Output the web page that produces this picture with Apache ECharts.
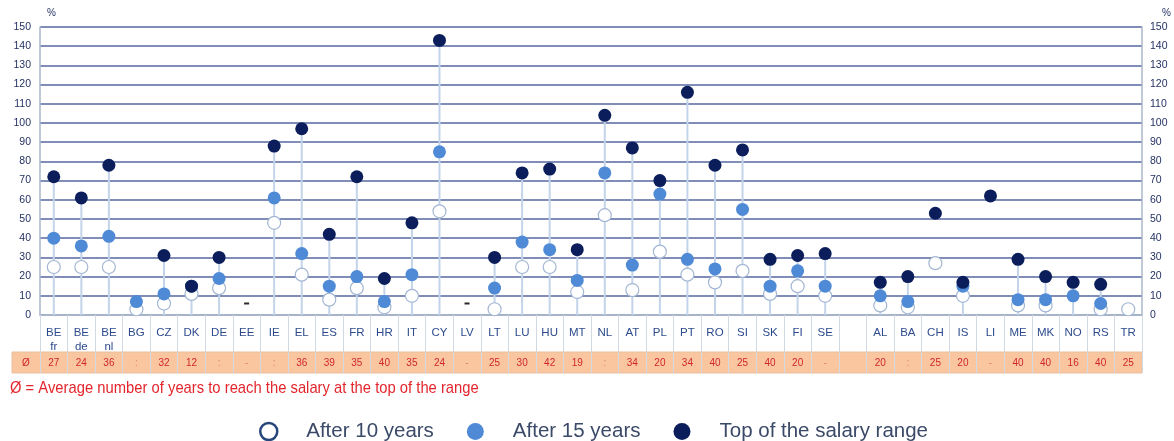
<!DOCTYPE html>
<html>
<head>
<meta charset="utf-8">
<title>Teachers' salaries - range</title>
<script src="https://cdn.jsdelivr.net/npm/echarts@6/dist/echarts.min.js"></script>
<style>
html, body { margin: 0; padding: 0; background: #fff; }
#chart { width: 1174px; height: 441px; }
</style>
</head>
<body>
<div id="chart"></div>
<script>
// countries (empty string = gap column between EU and non-EU)
var countries = ['BE fr','BE de','BE nl','BG','CZ','DK','DE','EE','IE','EL','ES','FR','HR','IT','CY','LV','LT','LU','HU','MT','NL','AT','PL','PT','RO','SI','SK','FI','SE','','AL','BA','CH','IS','LI','ME','MK','NO','RS','TR'];
// % above the minimum salary
var after10  = [25,25,25,3,6,11,14,null,48,21,8,14,4,10,54,null,3,25,25,12,52,13,33,21,17,23,11,15,10,null,5,4,27,10,null,5,5,null,3,3];
var after15  = [40,36,41,7,11,15,19,null,61,32,15,20,7,21,85,null,14,38,34,18,74,26,63,29,24,55,15,23,15,null,10,7,null,15,null,8,8,10,6,null];
var topRange = [72,61,78,null,31,15,30,null,88,97,42,72,19,48,143,null,30,74,76,34,104,87,70,116,78,86,29,31,32,null,17,20,53,17,62,29,20,17,16,null];
// average number of years to reach the top of the range
var yearsToTop = ['27','24','36',':','32','12',':','-',':','36','39','35','40','35','24','-','25','30','42','19',':','34','20','34','40','25','40','20','-','','20',':','25','20','-','40','40','16','40','25'];
// "-" = not applicable markers drawn in the plot
var notApplicable = [null,null,null,null,null,null,null,6,null,null,null,null,null,null,null,6,null,null,null,null,null,null,null,null,null,null,null,null,null,null,null,null,null,null,null,null,null,null,null,null];
var yMin = 0, yMax = 150, yStep = 10;

var FONT = "'Liberation Sans', Arial, sans-serif";

// stem from 0 up to the highest point
var stems = countries.map(function (c, i) {
    if (after15[i] == null) return null;
    return Math.max(after10[i] || 0, after15[i] || 0, topRange[i] || 0);
});

var myChart = echarts.init(document.getElementById('chart'));

var option = {
    animation: false,
    textStyle: { fontFamily: FONT },
    grid: { left: 40, right: 32, top: 27, bottom: 126 },
    legend: {
        left: 254,
        top: 416,
        icon: 'circle',
        itemWidth: 17,
        itemHeight: 17,
        itemGap: 33,
        textStyle: { fontSize: 20.5, color: '#3b4a68', padding: [0, 0, 0, 24] },
        data: [
            { name: 'After 10 years', itemStyle: { color: '#fff', borderColor: '#27467b', borderWidth: 2.5 } },
            { name: 'After 15 years' },
            { name: 'Top of the salary range' }
        ]
    },
    xAxis: [
        {
            type: 'category',
            data: countries,
            boundaryGap: true,
            axisLine: { lineStyle: { color: '#b4bfd2', width: 1.5 } },
            // column separators through both table rows
            axisTick: { show: true, length: 58, lineStyle: { color: '#d3d9e3' } },
            axisLabel: {
                interval: 0,
                margin: 11,
                color: '#2d4b8c',
                fontSize: 11.5,
                lineHeight: 14,
                formatter: function (v) { return v.replace(' ', '\n'); }
            },
            splitLine: { show: false }
        },
        {
            type: 'category',
            data: countries,
            position: 'bottom',
            offset: 37,
            axisLine: { show: false },
            axisTick: { show: false },
            axisLabel: {
                interval: 0,
                margin: 6,
                color: '#d0262b',
                fontSize: 10,
                formatter: function (v, i) {
                    var s = yearsToTop[i];
                    if (s === ':' || s === '-') return '{dim|' + s + '}';
                    return s;
                },
                rich: { dim: { color: '#e8845e', fontSize: 10 } }
            }
        }
    ],
    yAxis: [
        {
            type: 'value',
            min: yMin, max: yMax, interval: yStep,
            position: 'left',
            name: '%',
            nameLocation: 'end',
            nameGap: 9,
            nameTextStyle: { color: '#1e2c5e', fontSize: 10, align: 'left', padding: [0, 0, 0, 7] },
            axisLine: { show: true, lineStyle: { color: '#aab6cc', width: 1.5 } },
            axisTick: { show: false },
            axisLabel: { color: '#1e2c5e', fontSize: 10.5, margin: 9 },
            splitLine: { lineStyle: { color: '#56699f', width: 1.5 } }
        },
        {
            type: 'value',
            min: yMin, max: yMax, interval: yStep,
            position: 'right',
            name: '%',
            nameLocation: 'end',
            nameGap: 9,
            nameTextStyle: { color: '#1e2c5e', fontSize: 10, align: 'left', padding: [0, 0, 0, 20] },
            axisLine: { show: true, lineStyle: { color: '#aab6cc', width: 1.5 } },
            axisTick: { show: false },
            axisLabel: { color: '#1e2c5e', fontSize: 10.5, margin: 8 },
            splitLine: { show: false }
        }
    ],
    series: [
        {
            name: 'stem',
            type: 'bar',
            barWidth: 2,
            silent: true,
            itemStyle: { color: '#c3d4ea' },
            data: stems
        },
        {
            name: 'After 10 years',
            type: 'scatter',
            symbolSize: 13,
            itemStyle: { color: '#fff', borderColor: '#a3b6d3', borderWidth: 1.2, opacity: 1 },
            data: after10
        },
        {
            name: 'After 15 years',
            type: 'scatter',
            symbolSize: 13,
            itemStyle: { color: '#4f8ad6', opacity: 1 },
            data: after15
        },
        {
            name: 'Top of the salary range',
            type: 'scatter',
            symbolSize: 13,
            itemStyle: { color: '#0b1e5b', opacity: 1 },
            data: topRange
        },
        {
            name: 'n/a',
            type: 'scatter',
            symbol: 'rect',
            symbolSize: [5, 2],
            silent: true,
            itemStyle: { color: '#2a2a2a', opacity: 1 },
            data: notApplicable
        }
    ],
    graphic: [
        {
            type: 'rect',
            z: -1,
            shape: { x: 12, y: 352, width: 1130, height: 21 },
            style: { fill: '#f9c6a0', stroke: '#e8c0a0', lineWidth: 1 }
        },
        {
            type: 'text',
            x: 26, y: 363,
            style: { text: 'Ø', fill: '#d0262b', font: '10px ' + FONT, align: 'center', verticalAlign: 'middle' }
        },
        {
            // condensed footnote, as in the source figure
            type: 'text',
            x: 10, y: 388,
            scaleX: 0.87,
            style: {
                text: 'Ø = Average number of years to reach the salary at the top of the range',
                fill: '#e3262d',
                font: '17px ' + FONT,
                verticalAlign: 'middle'
            }
        }
    ]
};

myChart.setOption(option);
</script>
</body>
</html>
